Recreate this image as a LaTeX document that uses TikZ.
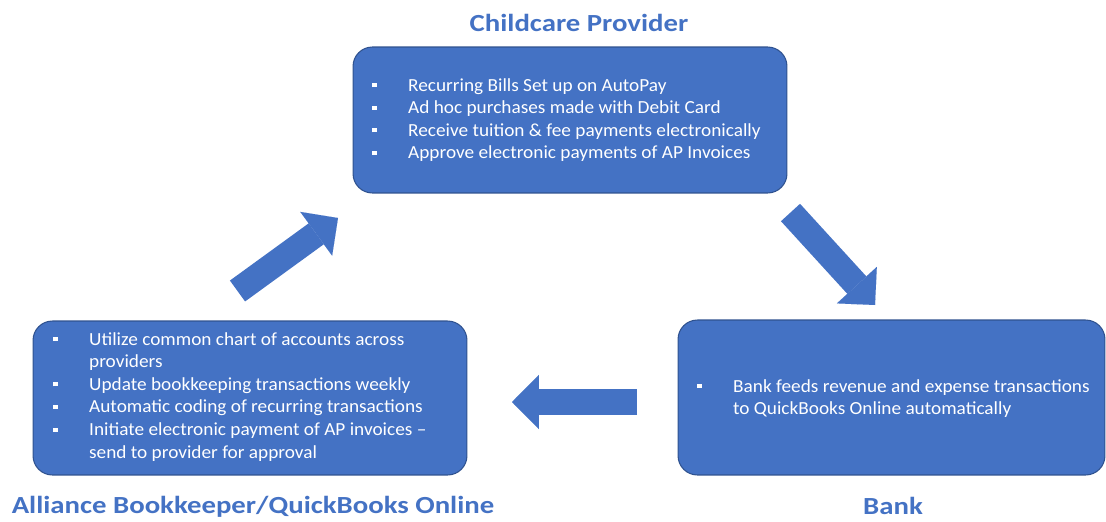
\documentclass[tikz,border=0pt]{standalone}
\usepackage{fontspec}
\setmainfont{Carlito}
\newfontfamily\titlefont[FakeStretch=1.17]{Carlito}
\newfontfamily\bodyfont[FakeStretch=1.045,Ligatures=TeX]{Carlito}
\usetikzlibrary{arrows.meta}

\definecolor{boxblue}{HTML}{4472C4}
\definecolor{boxline}{HTML}{2F528F}
\newcommand{\bul}{\rule[2.2pt]{2.4pt}{2.4pt}}
\newcommand{\itemlist}[1]{\begin{tabular}[t]{@{}p{20.4pt}@{}l@{}}#1\end{tabular}}

\begin{document}
\begin{tikzpicture}[x=0.02cm,y=-0.02cm]

      \useasboundingbox (0,0) rectangle (1106,521);

      \begin{scope}[every node/.style={rectangle,rounded corners=11pt,draw=boxline,
          line width=0.6pt,fill=boxblue,inner sep=0pt}]
        \node (provider) at (570,120)   [minimum width=8.68cm,minimum height=2.92cm] {};
        \node (alliance) at (250,398)   [minimum width=8.68cm,minimum height=3.08cm] {};
        \node (bank)     at (891.5,397.5) [minimum width=8.54cm,minimum height=3.1cm] {};
      \end{scope}

      \begin{scope}[every node/.style={anchor=base,text=boxblue,inner sep=0pt,
          font=\titlefont\fontsize{14}{17}\selectfont\bfseries}]
        \node (provtitle) at (579,31)  {Childcare Provider};
        \node (alltitle)  at (253,513) {Alliance Bookkeeper/QuickBooks Online};
        \node (banktitle) at (893,514) {Bank};
      \end{scope}

      \begin{scope}[every node/.style={anchor=base west,text=white,inner sep=0pt,
          font=\bodyfont\fontsize{10.5}{12.9}\selectfont}]
        \node (provtext) at (372,91) {\itemlist{
            \bul & Recurring Bills Set up on AutoPay\\
            \bul & Ad hoc purchases made with Debit Card\\
            \bul & Receive tuition \& fee payments electronically\\
            \bul & Approve electronic payments of AP Invoices}};
        \node (alltext) at (53,345) {\itemlist{
            \bul & Utilize common chart of accounts across\\
                 & providers\\
            \bul & Update bookkeeping transactions weekly\\
            \bul & Automatic coding of recurring transactions\\
            \bul & Initiate electronic payment of AP invoices –\\
                 & send to provider for approval}};
        \node (banktext) at (697,392) {\itemlist{
            \bul & Bank feeds revenue and expense transactions\\
                 & to QuickBooks Online automatically}};
      \end{scope}

      \coordinate (a1) at (237.5,291);
      \coordinate (b1) at (338,218);
      \coordinate (a2) at (790.5,212.5);
      \coordinate (b2) at (875,305);
      \coordinate (a3) at (637,402);
      \coordinate (b3) at (512,402);

      \begin{scope}[every edge/.style={draw=boxblue,line width=14.7pt,
          -{Triangle[length=15.3pt,width=30.8pt,line width=0.01pt]}}]
        \path (a1) edge (b1);
        \path (a2) edge (b2);
        \path (a3) edge (b3);
      \end{scope}

    \end{tikzpicture}
\end{document}
